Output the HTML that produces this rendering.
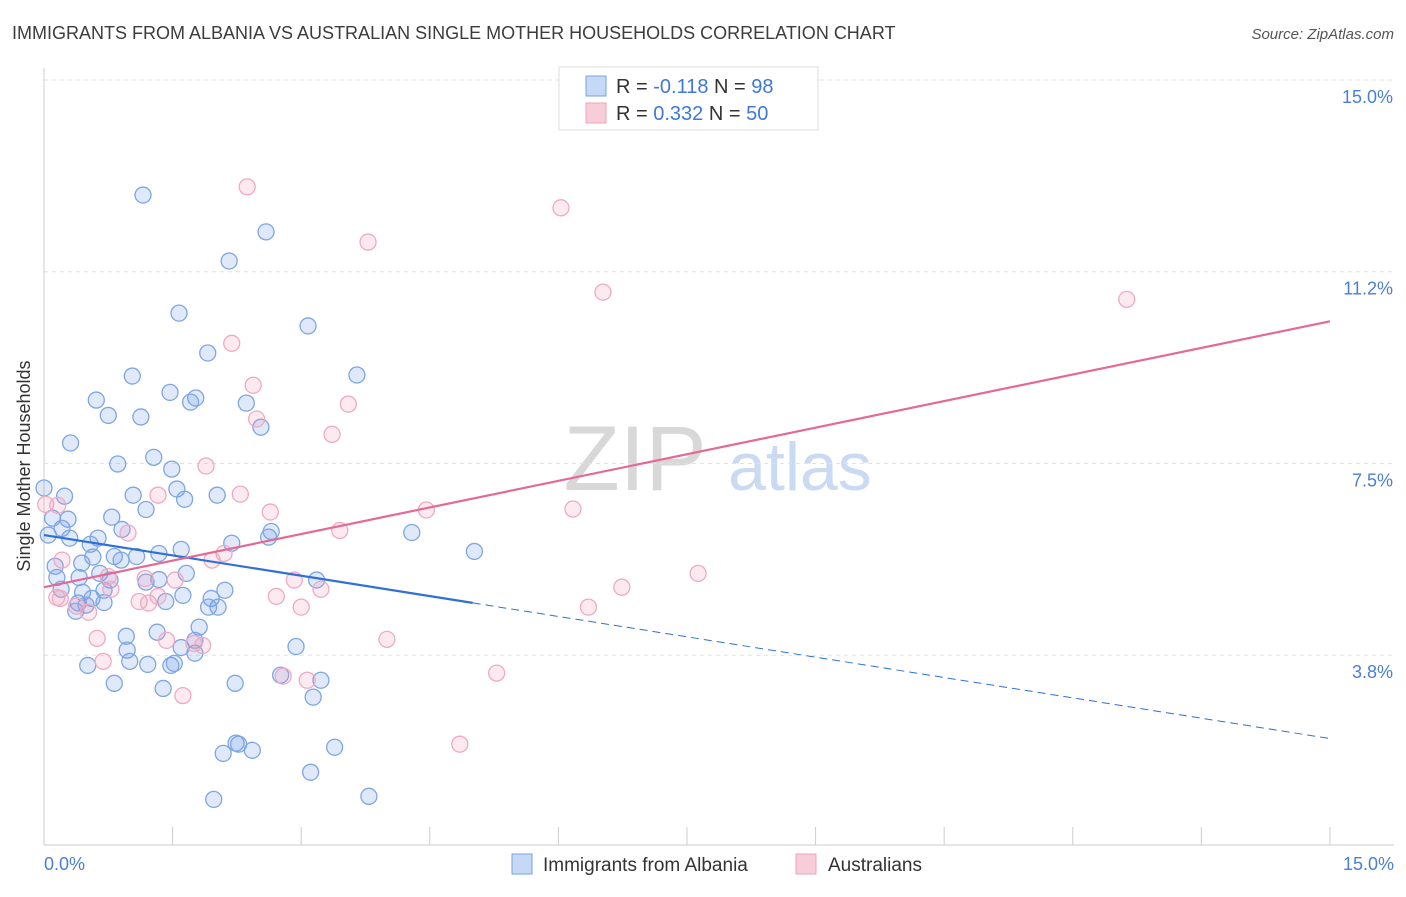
<!DOCTYPE html>
<html><head><meta charset="utf-8"><style>
body{margin:0;background:#fff;font-family:"Liberation Sans",sans-serif;}
svg text{font-family:"Liberation Sans",sans-serif;}
</style></head><body>
<svg id="chart" width="1406" height="892" viewBox="0 0 1406 892" xmlns="http://www.w3.org/2000/svg">
<text x="12" y="39" font-size="18" fill="#3c3c3c">IMMIGRANTS FROM ALBANIA VS AUSTRALIAN SINGLE MOTHER HOUSEHOLDS CORRELATION CHART</text>
<text x="1394" y="39" font-size="15" fill="#555" font-style="italic" text-anchor="end">Source: ZipAtlas.com</text>
<text x="635" y="490" font-size="92" fill="#d8d8d8" font-family="Liberation Serif" text-anchor="middle">ZIP</text>
<text x="800" y="490" font-size="68" fill="#c9daf2" text-anchor="middle">atlas</text>
<g id="grid"></g><g id="axes"></g><g id="pts"></g><g id="trends"></g>
<text x="20" y="456" font-size="18" fill="#333" transform="rotate(-90 30 456)" text-anchor="middle">Single Mother Households</text>
<text x="44" y="870" font-size="18" fill="#4a7fd4">0.0%</text>
<text x="1394" y="870" font-size="18" fill="#4a7fd4" text-anchor="end">15.0%</text>
<g>
<rect x="559" y="67" width="259" height="63" fill="#fff" stroke="#ddd"/>
<rect x="586" y="76" width="20" height="20" fill="#c5d8f5" stroke="#7aa3e0"/>
<rect x="586" y="103" width="20" height="20" fill="#f8cdd9" stroke="#eda3bd"/>
<text x="616" y="93" font-size="20" fill="#333">R = <tspan fill="#3f78d6">-0.118</tspan>   N = <tspan fill="#3f78d6">98</tspan></text>
<text x="616" y="120" font-size="20" fill="#333">R =  <tspan fill="#3f78d6">0.332</tspan>   N = <tspan fill="#3f78d6">50</tspan></text>
</g>
<g>
<rect x="512" y="854" width="20" height="20" fill="#c5d8f5" stroke="#7aa3e0"/>
<text x="543" y="871" font-size="19" fill="#333">Immigrants from Albania</text>
<rect x="796" y="854" width="20" height="20" fill="#f8cdd9" stroke="#eda3bd"/>
<text x="828" y="871" font-size="19" fill="#333">Australians</text>
</g>
</svg>
<script>
const yTicks=[15.0,11.25,7.5,3.75];
const yTickLabels=["15.0%","11.2%","7.5%","3.8%"];
const blueX=[1.155,2.59,2.16,1.575,3.08,1.91,1.03,3.65,1.47,1.77,1.71,0.61,2.36,0.75,1.13,2.53,0.31,1.28,0.86,1.49,1.55,1.64,1.04,2.02,1.19,0.24,0,0.10,0.28,0.21,0.79,0.05,0.30,0.63,0.54,0.91,2.19,2.62,2.65,4.29,5.02,1.60,1.34,1.08,0.82,0.57,0.90,0.44,0.13,0.15,0.41,0.65,0.77,1.19,1.34,1.66,3.18,0.20,0.70,2.11,1.62,0.45,1.95,1.42,0.56,0.70,0.40,0.49,2.03,1.92,0.37,1.81,0.96,1.32,2.94,0.97,1.60,1.76,0.51,1.00,1.21,1.48,1.52,0.82,1.39,2.23,2.76,3.23,3.14,2.24,2.27,2.43,2.09,3.39,3.11,1.98,3.79,1.76];
const blueY=[12.75,12.03,11.46,10.44,10.19,9.66,9.21,9.23,8.89,8.78,8.70,8.74,8.68,8.44,8.41,8.21,7.90,7.62,7.49,7.39,7.00,6.80,6.88,6.88,6.60,6.86,7.02,6.43,6.41,6.23,6.45,6.10,6.04,6.04,5.92,6.21,5.94,6.06,6.17,6.15,5.78,5.82,5.74,5.68,5.68,5.67,5.61,5.55,5.49,5.27,5.27,5.35,5.22,5.18,5.23,5.35,5.22,5.04,5.02,5.02,4.92,4.98,4.86,4.80,4.86,4.78,4.77,4.73,4.69,4.69,4.61,4.30,4.12,4.20,3.92,3.85,3.90,3.79,3.55,3.63,3.57,3.55,3.59,3.20,3.10,3.20,3.36,3.26,2.93,2.03,2.01,1.89,1.83,1.95,1.46,0.93,0.99,4.04];
const pinkX=[2.37,6.03,3.78,6.52,12.63,2.19,2.44,3.55,2.48,3.36,1.89,1.33,2.29,0.02,0.16,4.46,6.17,2.64,3.45,0.98,2.10,0.21,1.96,0.75,1.18,1.53,7.63,2.92,3.23,6.74,0.78,1.33,2.71,0.15,1.11,1.22,3.00,6.35,0.38,0.52,0.62,1.43,4.00,1.75,1.85,0.69,5.28,2.79,3.07,1.62,4.85,0.19];
const pinkY=[12.91,12.50,11.83,10.85,10.71,9.85,9.03,8.66,8.37,8.07,7.45,6.88,6.90,6.70,6.68,6.59,6.61,6.55,6.19,6.14,5.74,5.61,5.61,5.29,5.25,5.22,5.35,5.22,5.04,5.08,5.04,4.90,4.90,4.88,4.80,4.77,4.69,4.69,4.71,4.59,4.08,4.04,4.06,3.98,3.94,3.63,3.40,3.34,3.26,2.96,2.01,4.86];
const blueTrend=[6.10,2.12]; const blueSolidEnd=5.0;
const pinkTrend=[5.08,10.28];
const xTicks=[0,1.5,3,4.5,6,7.5,9,10.5,12,13.5,15];

const NS="http://www.w3.org/2000/svg";
const X=v=>44+v*85.73, Y=v=>80+(15-v)*51.13;
function mk(tag,attrs,parent){const e=document.createElementNS(NS,tag);for(const k in attrs)e.setAttribute(k,attrs[k]);document.getElementById(parent).appendChild(e);return e;}
yTicks.forEach((t,i)=>{
 const l=mk('line',{x1:44,x2:1394,y1:Y(t),y2:Y(t),stroke:'#e2e2e2','stroke-dasharray':'4,4'},'grid');
 
 
 const tx=mk('text',{x:1393,y:Y(t)+23,'font-size':18,fill:'#4a7fd4','text-anchor':'end'},'grid');
 tx.textContent=yTickLabels[i];
 
 
});
const ax=mk('line',{x1:44,x2:44,y1:68,y2:845,stroke:'#ccc'},'axes');


const bx=mk('line',{x1:44,x2:1394,y1:845,y2:845,stroke:'#ccc'},'axes');


xTicks.forEach(t=>{
 const l=mk('line',{x1:X(t),x2:X(t),y1:827,y2:845,stroke:'#ccc'},'axes');
 
 
});
blueX.forEach((v,i)=>{
 const c=mk('circle',{cx:X(v),cy:Y(blueY[i]),r:8,fill:'rgba(110,155,230,0.22)',stroke:'#7ea6e2','stroke-width':1.3},'pts');
 
 
});
pinkX.forEach((v,i)=>{
 const c=mk('circle',{cx:X(v),cy:Y(pinkY[i]),r:8,fill:'rgba(240,150,180,0.2)',stroke:'#eeaac2','stroke-width':1.3},'pts');
 
 
});
const bAt=x=>blueTrend[0]+(blueTrend[1]-blueTrend[0])*x/15;
const b1=mk('line',{x1:X(0),y1:Y(bAt(0)),x2:X(blueSolidEnd),y2:Y(bAt(blueSolidEnd)),stroke:'#2f6fd8','stroke-width':2.2},'trends');


const b2=mk('line',{x1:X(blueSolidEnd),y1:Y(bAt(blueSolidEnd)),x2:X(15),y2:Y(bAt(15)),stroke:'#2f6fd8','stroke-width':1,'stroke-dasharray':'8,5'},'trends');


const p1=mk('line',{x1:X(0),y1:Y(pinkTrend[0]),x2:X(15),y2:Y(pinkTrend[1]),stroke:'#e46a96','stroke-width':2.2},'trends');


</script>
</body></html>
